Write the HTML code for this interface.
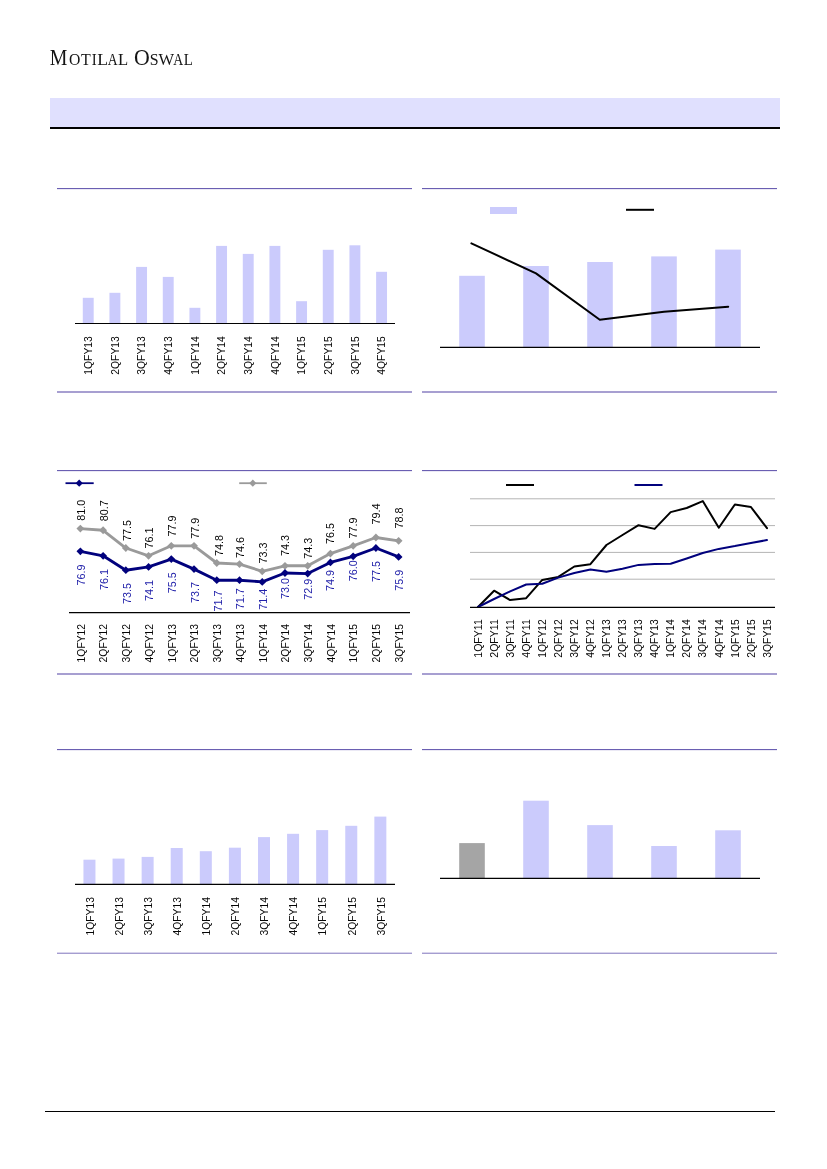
<!DOCTYPE html>
<html><head><meta charset="utf-8"><title>Motilal Oswal</title>
<style>
html,body{margin:0;padding:0;background:#fff}
body{width:827px;height:1169px;overflow:hidden}
svg{display:block;font-family:"Liberation Sans",sans-serif;will-change:transform;opacity:.999}
</style></head><body>
<svg width="827" height="1169" viewBox="0 0 827 1169">
<rect x="50" y="98" width="730" height="29" fill="#e0e0fe"/>
<rect x="50" y="127" width="730" height="2" fill="#000"/>
<text y="64.7" font-family="'Liberation Serif',serif" fill="#141414"><tspan font-size="22.1" x="49.73" textLength="17.65" lengthAdjust="spacingAndGlyphs">M</tspan><tspan font-size="15.7" x="69.05" textLength="11.39" lengthAdjust="spacingAndGlyphs">O</tspan><tspan font-size="15.7" x="81.01" textLength="9.75" lengthAdjust="spacingAndGlyphs">T</tspan><tspan font-size="15.7" x="91.86" textLength="4.96" lengthAdjust="spacingAndGlyphs">I</tspan><tspan font-size="15.7" x="97.19" textLength="10.77" lengthAdjust="spacingAndGlyphs">L</tspan><tspan font-size="15.7" x="107.77" textLength="9.83" lengthAdjust="spacingAndGlyphs">A</tspan><tspan font-size="15.7" x="117.92" textLength="10.18" lengthAdjust="spacingAndGlyphs">L</tspan> <tspan font-size="22.1" x="133.90" textLength="15.79" lengthAdjust="spacingAndGlyphs">O</tspan><tspan font-size="15.7" x="149.74" textLength="8.85" lengthAdjust="spacingAndGlyphs">S</tspan><tspan font-size="15.7" x="158.48" textLength="15.55" lengthAdjust="spacingAndGlyphs">W</tspan><tspan font-size="15.7" x="173.37" textLength="9.94" lengthAdjust="spacingAndGlyphs">A</tspan><tspan font-size="15.7" x="183.67" textLength="9.13" lengthAdjust="spacingAndGlyphs">L</tspan></text>
<rect x="57" y="188" width="355" height="1" fill="#6a5fb2"/>
<rect x="57" y="189" width="355" height="1" fill="#ebe9f5"/>
<rect x="422" y="188" width="355" height="1" fill="#6a5fb2"/>
<rect x="422" y="189" width="355" height="1" fill="#ebe9f5"/>
<rect x="57" y="391" width="355" height="2" fill="#a79fd1"/>
<rect x="422" y="391" width="355" height="2" fill="#a79fd1"/>
<rect x="57" y="470" width="355" height="1" fill="#6a5fb2"/>
<rect x="57" y="471" width="355" height="1" fill="#ebe9f5"/>
<rect x="422" y="470" width="355" height="1" fill="#6a5fb2"/>
<rect x="422" y="471" width="355" height="1" fill="#ebe9f5"/>
<rect x="57" y="673" width="355" height="2" fill="#a79fd1"/>
<rect x="422" y="673" width="355" height="2" fill="#a79fd1"/>
<rect x="57" y="749" width="355" height="1" fill="#6a5fb2"/>
<rect x="57" y="750" width="355" height="1" fill="#ebe9f5"/>
<rect x="422" y="749" width="355" height="1" fill="#6a5fb2"/>
<rect x="422" y="750" width="355" height="1" fill="#ebe9f5"/>
<rect x="57" y="952" width="355" height="1" fill="#d9d5ec"/>
<rect x="57" y="953" width="355" height="1" fill="#a59dd0"/>
<rect x="422" y="952" width="355" height="1" fill="#d9d5ec"/>
<rect x="422" y="953" width="355" height="1" fill="#a59dd0"/>
<rect x="45" y="1111" width="730" height="1" fill="#000"/>
<rect x="82.78" y="297.8" width="10.9" height="25.70" fill="#cbcbfc"/>
<text transform="translate(92.03,336.20) rotate(-90)" text-anchor="end" font-size="10.4" fill="#050505" textLength="38.5" lengthAdjust="spacingAndGlyphs">1QFY13</text>
<rect x="109.45" y="292.8" width="10.9" height="30.70" fill="#cbcbfc"/>
<text transform="translate(118.70,336.20) rotate(-90)" text-anchor="end" font-size="10.4" fill="#050505" textLength="38.5" lengthAdjust="spacingAndGlyphs">2QFY13</text>
<rect x="136.12" y="266.9" width="10.9" height="56.60" fill="#cbcbfc"/>
<text transform="translate(145.37,336.20) rotate(-90)" text-anchor="end" font-size="10.4" fill="#050505" textLength="38.5" lengthAdjust="spacingAndGlyphs">3QFY13</text>
<rect x="162.78" y="276.9" width="10.9" height="46.60" fill="#cbcbfc"/>
<text transform="translate(172.03,336.20) rotate(-90)" text-anchor="end" font-size="10.4" fill="#050505" textLength="38.5" lengthAdjust="spacingAndGlyphs">4QFY13</text>
<rect x="189.45" y="307.8" width="10.9" height="15.70" fill="#cbcbfc"/>
<text transform="translate(198.70,336.20) rotate(-90)" text-anchor="end" font-size="10.4" fill="#050505" textLength="38.5" lengthAdjust="spacingAndGlyphs">1QFY14</text>
<rect x="216.12" y="245.9" width="10.9" height="77.60" fill="#cbcbfc"/>
<text transform="translate(225.37,336.20) rotate(-90)" text-anchor="end" font-size="10.4" fill="#050505" textLength="38.5" lengthAdjust="spacingAndGlyphs">2QFY14</text>
<rect x="242.78" y="253.9" width="10.9" height="69.60" fill="#cbcbfc"/>
<text transform="translate(252.03,336.20) rotate(-90)" text-anchor="end" font-size="10.4" fill="#050505" textLength="38.5" lengthAdjust="spacingAndGlyphs">3QFY14</text>
<rect x="269.45" y="245.9" width="10.9" height="77.60" fill="#cbcbfc"/>
<text transform="translate(278.70,336.20) rotate(-90)" text-anchor="end" font-size="10.4" fill="#050505" textLength="38.5" lengthAdjust="spacingAndGlyphs">4QFY14</text>
<rect x="296.12" y="301.2" width="10.9" height="22.30" fill="#cbcbfc"/>
<text transform="translate(305.37,336.20) rotate(-90)" text-anchor="end" font-size="10.4" fill="#050505" textLength="38.5" lengthAdjust="spacingAndGlyphs">1QFY15</text>
<rect x="322.78" y="249.8" width="10.9" height="73.70" fill="#cbcbfc"/>
<text transform="translate(332.03,336.20) rotate(-90)" text-anchor="end" font-size="10.4" fill="#050505" textLength="38.5" lengthAdjust="spacingAndGlyphs">2QFY15</text>
<rect x="349.45" y="245.3" width="10.9" height="78.20" fill="#cbcbfc"/>
<text transform="translate(358.70,336.20) rotate(-90)" text-anchor="end" font-size="10.4" fill="#050505" textLength="38.5" lengthAdjust="spacingAndGlyphs">3QFY15</text>
<rect x="376.12" y="271.8" width="10.9" height="51.70" fill="#cbcbfc"/>
<text transform="translate(385.37,336.20) rotate(-90)" text-anchor="end" font-size="10.4" fill="#050505" textLength="38.5" lengthAdjust="spacingAndGlyphs">4QFY15</text>
<line x1="75" y1="323.5" x2="395" y2="323.5" stroke="#000" stroke-width="1.2"/>
<rect x="459.20" y="275.8" width="25.6" height="71.60" fill="#cbcbfc"/>
<rect x="523.20" y="266" width="25.6" height="81.40" fill="#cbcbfc"/>
<rect x="587.20" y="262" width="25.6" height="85.40" fill="#cbcbfc"/>
<rect x="651.20" y="256.4" width="25.6" height="91.00" fill="#cbcbfc"/>
<rect x="715.20" y="249.6" width="25.6" height="97.80" fill="#cbcbfc"/>
<line x1="440" y1="347.4" x2="760" y2="347.4" stroke="#000" stroke-width="1.1"/>
<rect x="490" y="207" width="27" height="7" fill="#cbcbfc"/>
<line x1="626" y1="209.8" x2="654" y2="209.8" stroke="#000" stroke-width="2"/>
<polyline points="471.4,243.3 536,273.4 599.8,319.7 664,311.7 728.2,306.7" fill="none" stroke="#000" stroke-width="2" stroke-linejoin="round" stroke-linecap="round"/>
<line x1="69" y1="612.6" x2="410" y2="612.6" stroke="#000" stroke-width="1.1"/>
<text transform="translate(84.67,623.90) rotate(-90)" text-anchor="end" font-size="10.4" fill="#050505" textLength="38.5" lengthAdjust="spacingAndGlyphs">1QFY12</text>
<text transform="translate(85.27,520.70) rotate(-90)" text-anchor="start" font-size="10.8" fill="#050505" textLength="21" lengthAdjust="spacingAndGlyphs">81.0</text>
<text transform="translate(85.27,564.60) rotate(-90)" text-anchor="end" font-size="10.8" fill="#2222aa" textLength="21" lengthAdjust="spacingAndGlyphs">76.9</text>
<text transform="translate(107.40,623.90) rotate(-90)" text-anchor="end" font-size="10.4" fill="#050505" textLength="38.5" lengthAdjust="spacingAndGlyphs">2QFY12</text>
<text transform="translate(108.00,521.30) rotate(-90)" text-anchor="start" font-size="10.8" fill="#050505" textLength="21" lengthAdjust="spacingAndGlyphs">80.7</text>
<text transform="translate(108.00,569.00) rotate(-90)" text-anchor="end" font-size="10.8" fill="#2222aa" textLength="21" lengthAdjust="spacingAndGlyphs">76.1</text>
<text transform="translate(130.13,623.90) rotate(-90)" text-anchor="end" font-size="10.4" fill="#050505" textLength="38.5" lengthAdjust="spacingAndGlyphs">3QFY12</text>
<text transform="translate(130.73,540.90) rotate(-90)" text-anchor="start" font-size="10.8" fill="#050505" textLength="21" lengthAdjust="spacingAndGlyphs">77.5</text>
<text transform="translate(130.73,583.10) rotate(-90)" text-anchor="end" font-size="10.8" fill="#2222aa" textLength="21" lengthAdjust="spacingAndGlyphs">73.5</text>
<text transform="translate(152.87,623.90) rotate(-90)" text-anchor="end" font-size="10.4" fill="#050505" textLength="38.5" lengthAdjust="spacingAndGlyphs">4QFY12</text>
<text transform="translate(153.47,548.50) rotate(-90)" text-anchor="start" font-size="10.8" fill="#050505" textLength="21" lengthAdjust="spacingAndGlyphs">76.1</text>
<text transform="translate(153.47,579.90) rotate(-90)" text-anchor="end" font-size="10.8" fill="#2222aa" textLength="21" lengthAdjust="spacingAndGlyphs">74.1</text>
<text transform="translate(175.60,623.90) rotate(-90)" text-anchor="end" font-size="10.4" fill="#050505" textLength="38.5" lengthAdjust="spacingAndGlyphs">1QFY13</text>
<text transform="translate(176.20,536.50) rotate(-90)" text-anchor="start" font-size="10.8" fill="#050505" textLength="21" lengthAdjust="spacingAndGlyphs">77.9</text>
<text transform="translate(176.20,572.30) rotate(-90)" text-anchor="end" font-size="10.8" fill="#2222aa" textLength="21" lengthAdjust="spacingAndGlyphs">75.5</text>
<text transform="translate(198.33,623.90) rotate(-90)" text-anchor="end" font-size="10.4" fill="#050505" textLength="38.5" lengthAdjust="spacingAndGlyphs">2QFY13</text>
<text transform="translate(198.93,538.70) rotate(-90)" text-anchor="start" font-size="10.8" fill="#050505" textLength="21" lengthAdjust="spacingAndGlyphs">77.9</text>
<text transform="translate(198.93,582.10) rotate(-90)" text-anchor="end" font-size="10.8" fill="#2222aa" textLength="21" lengthAdjust="spacingAndGlyphs">73.7</text>
<text transform="translate(221.07,623.90) rotate(-90)" text-anchor="end" font-size="10.4" fill="#050505" textLength="38.5" lengthAdjust="spacingAndGlyphs">3QFY13</text>
<text transform="translate(223.47,556.00) rotate(-90)" text-anchor="start" font-size="10.8" fill="#050505" textLength="21" lengthAdjust="spacingAndGlyphs">74.8</text>
<text transform="translate(221.67,590.50) rotate(-90)" text-anchor="end" font-size="10.8" fill="#2222aa" textLength="21" lengthAdjust="spacingAndGlyphs">71.7</text>
<text transform="translate(243.80,623.90) rotate(-90)" text-anchor="end" font-size="10.4" fill="#050505" textLength="38.5" lengthAdjust="spacingAndGlyphs">4QFY13</text>
<text transform="translate(244.40,558.10) rotate(-90)" text-anchor="start" font-size="10.8" fill="#050505" textLength="21" lengthAdjust="spacingAndGlyphs">74.6</text>
<text transform="translate(244.40,588.20) rotate(-90)" text-anchor="end" font-size="10.8" fill="#2222aa" textLength="21" lengthAdjust="spacingAndGlyphs">71.7</text>
<text transform="translate(266.53,623.90) rotate(-90)" text-anchor="end" font-size="10.4" fill="#050505" textLength="38.5" lengthAdjust="spacingAndGlyphs">1QFY14</text>
<text transform="translate(267.13,563.60) rotate(-90)" text-anchor="start" font-size="10.8" fill="#050505" textLength="21" lengthAdjust="spacingAndGlyphs">73.3</text>
<text transform="translate(267.13,588.70) rotate(-90)" text-anchor="end" font-size="10.8" fill="#2222aa" textLength="21" lengthAdjust="spacingAndGlyphs">71.4</text>
<text transform="translate(289.27,623.90) rotate(-90)" text-anchor="end" font-size="10.4" fill="#050505" textLength="38.5" lengthAdjust="spacingAndGlyphs">2QFY14</text>
<text transform="translate(288.87,556.00) rotate(-90)" text-anchor="start" font-size="10.8" fill="#050505" textLength="21" lengthAdjust="spacingAndGlyphs">74.3</text>
<text transform="translate(288.87,578.10) rotate(-90)" text-anchor="end" font-size="10.8" fill="#2222aa" textLength="21" lengthAdjust="spacingAndGlyphs">73.0</text>
<text transform="translate(312.00,623.90) rotate(-90)" text-anchor="end" font-size="10.4" fill="#050505" textLength="38.5" lengthAdjust="spacingAndGlyphs">3QFY14</text>
<text transform="translate(311.60,558.80) rotate(-90)" text-anchor="start" font-size="10.8" fill="#050505" textLength="21" lengthAdjust="spacingAndGlyphs">74.3</text>
<text transform="translate(311.60,578.80) rotate(-90)" text-anchor="end" font-size="10.8" fill="#2222aa" textLength="21" lengthAdjust="spacingAndGlyphs">72.9</text>
<text transform="translate(334.73,623.90) rotate(-90)" text-anchor="end" font-size="10.4" fill="#050505" textLength="38.5" lengthAdjust="spacingAndGlyphs">4QFY14</text>
<text transform="translate(334.33,543.90) rotate(-90)" text-anchor="start" font-size="10.8" fill="#050505" textLength="21" lengthAdjust="spacingAndGlyphs">76.5</text>
<text transform="translate(334.33,570.10) rotate(-90)" text-anchor="end" font-size="10.8" fill="#2222aa" textLength="21" lengthAdjust="spacingAndGlyphs">74.9</text>
<text transform="translate(357.47,623.90) rotate(-90)" text-anchor="end" font-size="10.4" fill="#050505" textLength="38.5" lengthAdjust="spacingAndGlyphs">1QFY15</text>
<text transform="translate(357.07,538.40) rotate(-90)" text-anchor="start" font-size="10.8" fill="#050505" textLength="21" lengthAdjust="spacingAndGlyphs">77.9</text>
<text transform="translate(357.07,560.20) rotate(-90)" text-anchor="end" font-size="10.8" fill="#2222aa" textLength="21" lengthAdjust="spacingAndGlyphs">76.0</text>
<text transform="translate(380.20,623.90) rotate(-90)" text-anchor="end" font-size="10.4" fill="#050505" textLength="38.5" lengthAdjust="spacingAndGlyphs">2QFY15</text>
<text transform="translate(379.80,524.50) rotate(-90)" text-anchor="start" font-size="10.8" fill="#050505" textLength="21" lengthAdjust="spacingAndGlyphs">79.4</text>
<text transform="translate(379.80,561.10) rotate(-90)" text-anchor="end" font-size="10.8" fill="#2222aa" textLength="21" lengthAdjust="spacingAndGlyphs">77.5</text>
<text transform="translate(402.93,623.90) rotate(-90)" text-anchor="end" font-size="10.4" fill="#050505" textLength="38.5" lengthAdjust="spacingAndGlyphs">3QFY15</text>
<text transform="translate(402.53,528.60) rotate(-90)" text-anchor="start" font-size="10.8" fill="#050505" textLength="21" lengthAdjust="spacingAndGlyphs">78.8</text>
<text transform="translate(402.53,569.70) rotate(-90)" text-anchor="end" font-size="10.8" fill="#2222aa" textLength="21" lengthAdjust="spacingAndGlyphs">75.9</text>
<polyline points="80.37,528.60 103.10,530.26 125.83,548.02 148.57,555.80 171.30,545.80 194.03,545.80 216.77,563.01 239.50,564.12 262.23,571.34 284.97,565.79 307.70,565.79 330.43,553.58 353.17,545.80 375.90,537.48 398.63,540.81" fill="none" stroke="#9a9a9a" stroke-width="2.85" stroke-linejoin="round"/>
<path d="M80.37,524.70 L84.27,528.60 L80.37,532.50 L76.47,528.60Z" fill="#9a9a9a"/>
<path d="M103.10,526.37 L107.00,530.26 L103.10,534.16 L99.20,530.26Z" fill="#9a9a9a"/>
<path d="M125.83,544.12 L129.73,548.02 L125.83,551.92 L121.93,548.02Z" fill="#9a9a9a"/>
<path d="M148.57,551.90 L152.47,555.80 L148.57,559.70 L144.67,555.80Z" fill="#9a9a9a"/>
<path d="M171.30,541.90 L175.20,545.80 L171.30,549.70 L167.40,545.80Z" fill="#9a9a9a"/>
<path d="M194.03,541.90 L197.93,545.80 L194.03,549.70 L190.13,545.80Z" fill="#9a9a9a"/>
<path d="M216.77,559.11 L220.67,563.01 L216.77,566.91 L212.87,563.01Z" fill="#9a9a9a"/>
<path d="M239.50,560.22 L243.40,564.12 L239.50,568.02 L235.60,564.12Z" fill="#9a9a9a"/>
<path d="M262.23,567.44 L266.13,571.34 L262.23,575.24 L258.33,571.34Z" fill="#9a9a9a"/>
<path d="M284.97,561.89 L288.87,565.79 L284.97,569.69 L281.07,565.79Z" fill="#9a9a9a"/>
<path d="M307.70,561.89 L311.60,565.79 L307.70,569.69 L303.80,565.79Z" fill="#9a9a9a"/>
<path d="M330.43,549.68 L334.33,553.58 L330.43,557.48 L326.53,553.58Z" fill="#9a9a9a"/>
<path d="M353.17,541.90 L357.07,545.80 L353.17,549.70 L349.27,545.80Z" fill="#9a9a9a"/>
<path d="M375.90,533.58 L379.80,537.48 L375.90,541.38 L372.00,537.48Z" fill="#9a9a9a"/>
<path d="M398.63,536.91 L402.53,540.81 L398.63,544.71 L394.73,540.81Z" fill="#9a9a9a"/>
<polyline points="80.37,551.36 103.10,555.80 125.83,570.23 148.57,566.90 171.30,559.12 194.03,569.12 216.77,580.22 239.50,580.22 262.23,581.88 284.97,573.00 307.70,573.55 330.43,562.46 353.17,556.35 375.90,548.02 398.63,556.90" fill="none" stroke="#00007d" stroke-width="2.85" stroke-linejoin="round"/>
<path d="M80.37,547.46 L84.27,551.36 L80.37,555.25 L76.47,551.36Z" fill="#00007d"/>
<path d="M103.10,551.90 L107.00,555.80 L103.10,559.70 L99.20,555.80Z" fill="#00007d"/>
<path d="M125.83,566.33 L129.73,570.23 L125.83,574.12 L121.93,570.23Z" fill="#00007d"/>
<path d="M148.57,563.00 L152.47,566.90 L148.57,570.80 L144.67,566.90Z" fill="#00007d"/>
<path d="M171.30,555.23 L175.20,559.12 L171.30,563.02 L167.40,559.12Z" fill="#00007d"/>
<path d="M194.03,565.22 L197.93,569.12 L194.03,573.01 L190.13,569.12Z" fill="#00007d"/>
<path d="M216.77,576.32 L220.67,580.22 L216.77,584.12 L212.87,580.22Z" fill="#00007d"/>
<path d="M239.50,576.32 L243.40,580.22 L239.50,584.12 L235.60,580.22Z" fill="#00007d"/>
<path d="M262.23,577.98 L266.13,581.88 L262.23,585.78 L258.33,581.88Z" fill="#00007d"/>
<path d="M284.97,569.10 L288.87,573.00 L284.97,576.90 L281.07,573.00Z" fill="#00007d"/>
<path d="M307.70,569.65 L311.60,573.55 L307.70,577.45 L303.80,573.55Z" fill="#00007d"/>
<path d="M330.43,558.56 L334.33,562.46 L330.43,566.36 L326.53,562.46Z" fill="#00007d"/>
<path d="M353.17,552.45 L357.07,556.35 L353.17,560.25 L349.27,556.35Z" fill="#00007d"/>
<path d="M375.90,544.12 L379.80,548.02 L375.90,551.92 L372.00,548.02Z" fill="#00007d"/>
<path d="M398.63,553.00 L402.53,556.90 L398.63,560.80 L394.73,556.90Z" fill="#00007d"/>
<line x1="65.5" y1="483.2" x2="93.7" y2="483.2" stroke="#00007d" stroke-width="1.8"/>
<path d="M79.20,479.60 L82.80,483.20 L79.20,486.80 L75.60,483.20Z" fill="#00007d"/>
<line x1="239.2" y1="483.2" x2="266.8" y2="483.2" stroke="#9a9a9a" stroke-width="1.8"/>
<path d="M252.80,479.60 L256.40,483.20 L252.80,486.80 L249.20,483.20Z" fill="#9a9a9a"/>
<line x1="470" y1="498.8" x2="775" y2="498.8" stroke="#b4b4b4" stroke-width="1"/>
<line x1="470" y1="525.6" x2="775" y2="525.6" stroke="#b4b4b4" stroke-width="1"/>
<line x1="470" y1="552.4" x2="775" y2="552.4" stroke="#b4b4b4" stroke-width="1"/>
<line x1="470" y1="579.2" x2="775" y2="579.2" stroke="#b4b4b4" stroke-width="1"/>
<polyline points="478.03,607.00 494.08,590.70 510.13,600.10 526.18,598.20 542.24,579.90 558.29,576.90 574.34,566.50 590.39,564.20 606.45,545.00 622.50,535.00 638.55,525.20 654.61,528.90 670.66,512.10 686.71,508.00 702.76,501.10 718.82,527.70 734.87,504.50 750.92,507.00 766.97,528.20" fill="none" stroke="#000" stroke-width="2" stroke-linejoin="round" stroke-linecap="round"/>
<polyline points="478.03,607.00 494.08,599.00 510.13,591.30 526.18,584.50 542.24,583.80 558.29,577.60 574.34,573.00 590.39,569.50 606.45,571.80 622.50,568.80 638.55,564.90 654.61,564.00 670.66,563.80 686.71,558.50 702.76,553.00 718.82,548.90 734.87,546.10 750.92,542.90 766.97,540.10" fill="none" stroke="#00007d" stroke-width="2" stroke-linejoin="round" stroke-linecap="round"/>
<line x1="470" y1="607.3" x2="775" y2="607.3" stroke="#000" stroke-width="1.15"/>
<text transform="translate(481.73,619.20) rotate(-90)" text-anchor="end" font-size="10.4" fill="#050505" textLength="38.5" lengthAdjust="spacingAndGlyphs">1QFY11</text>
<text transform="translate(497.78,619.20) rotate(-90)" text-anchor="end" font-size="10.4" fill="#050505" textLength="38.5" lengthAdjust="spacingAndGlyphs">2QFY11</text>
<text transform="translate(513.83,619.20) rotate(-90)" text-anchor="end" font-size="10.4" fill="#050505" textLength="38.5" lengthAdjust="spacingAndGlyphs">3QFY11</text>
<text transform="translate(529.88,619.20) rotate(-90)" text-anchor="end" font-size="10.4" fill="#050505" textLength="38.5" lengthAdjust="spacingAndGlyphs">4QFY11</text>
<text transform="translate(545.94,619.20) rotate(-90)" text-anchor="end" font-size="10.4" fill="#050505" textLength="38.5" lengthAdjust="spacingAndGlyphs">1QFY12</text>
<text transform="translate(561.99,619.20) rotate(-90)" text-anchor="end" font-size="10.4" fill="#050505" textLength="38.5" lengthAdjust="spacingAndGlyphs">2QFY12</text>
<text transform="translate(578.04,619.20) rotate(-90)" text-anchor="end" font-size="10.4" fill="#050505" textLength="38.5" lengthAdjust="spacingAndGlyphs">3QFY12</text>
<text transform="translate(594.09,619.20) rotate(-90)" text-anchor="end" font-size="10.4" fill="#050505" textLength="38.5" lengthAdjust="spacingAndGlyphs">4QFY12</text>
<text transform="translate(610.15,619.20) rotate(-90)" text-anchor="end" font-size="10.4" fill="#050505" textLength="38.5" lengthAdjust="spacingAndGlyphs">1QFY13</text>
<text transform="translate(626.20,619.20) rotate(-90)" text-anchor="end" font-size="10.4" fill="#050505" textLength="38.5" lengthAdjust="spacingAndGlyphs">2QFY13</text>
<text transform="translate(642.25,619.20) rotate(-90)" text-anchor="end" font-size="10.4" fill="#050505" textLength="38.5" lengthAdjust="spacingAndGlyphs">3QFY13</text>
<text transform="translate(658.31,619.20) rotate(-90)" text-anchor="end" font-size="10.4" fill="#050505" textLength="38.5" lengthAdjust="spacingAndGlyphs">4QFY13</text>
<text transform="translate(674.36,619.20) rotate(-90)" text-anchor="end" font-size="10.4" fill="#050505" textLength="38.5" lengthAdjust="spacingAndGlyphs">1QFY14</text>
<text transform="translate(690.41,619.20) rotate(-90)" text-anchor="end" font-size="10.4" fill="#050505" textLength="38.5" lengthAdjust="spacingAndGlyphs">2QFY14</text>
<text transform="translate(706.46,619.20) rotate(-90)" text-anchor="end" font-size="10.4" fill="#050505" textLength="38.5" lengthAdjust="spacingAndGlyphs">3QFY14</text>
<text transform="translate(722.52,619.20) rotate(-90)" text-anchor="end" font-size="10.4" fill="#050505" textLength="38.5" lengthAdjust="spacingAndGlyphs">4QFY14</text>
<text transform="translate(738.57,619.20) rotate(-90)" text-anchor="end" font-size="10.4" fill="#050505" textLength="38.5" lengthAdjust="spacingAndGlyphs">1QFY15</text>
<text transform="translate(754.62,619.20) rotate(-90)" text-anchor="end" font-size="10.4" fill="#050505" textLength="38.5" lengthAdjust="spacingAndGlyphs">2QFY15</text>
<text transform="translate(770.67,619.20) rotate(-90)" text-anchor="end" font-size="10.4" fill="#050505" textLength="38.5" lengthAdjust="spacingAndGlyphs">3QFY15</text>
<line x1="506" y1="485" x2="534" y2="485" stroke="#000" stroke-width="2"/>
<line x1="634.5" y1="485" x2="662.5" y2="485" stroke="#00007d" stroke-width="2"/>
<rect x="83.45" y="859.7" width="12" height="24.70" fill="#cbcbfc"/>
<text transform="translate(93.75,897.00) rotate(-90)" text-anchor="end" font-size="10.4" fill="#050505" textLength="38.5" lengthAdjust="spacingAndGlyphs">1QFY13</text>
<rect x="112.54" y="858.6" width="12" height="25.80" fill="#cbcbfc"/>
<text transform="translate(122.84,897.00) rotate(-90)" text-anchor="end" font-size="10.4" fill="#050505" textLength="38.5" lengthAdjust="spacingAndGlyphs">2QFY13</text>
<rect x="141.63" y="856.9" width="12" height="27.50" fill="#cbcbfc"/>
<text transform="translate(151.93,897.00) rotate(-90)" text-anchor="end" font-size="10.4" fill="#050505" textLength="38.5" lengthAdjust="spacingAndGlyphs">3QFY13</text>
<rect x="170.72" y="848" width="12" height="36.40" fill="#cbcbfc"/>
<text transform="translate(181.02,897.00) rotate(-90)" text-anchor="end" font-size="10.4" fill="#050505" textLength="38.5" lengthAdjust="spacingAndGlyphs">4QFY13</text>
<rect x="199.81" y="851.2" width="12" height="33.20" fill="#cbcbfc"/>
<text transform="translate(210.11,897.00) rotate(-90)" text-anchor="end" font-size="10.4" fill="#050505" textLength="38.5" lengthAdjust="spacingAndGlyphs">1QFY14</text>
<rect x="228.90" y="847.7" width="12" height="36.70" fill="#cbcbfc"/>
<text transform="translate(239.20,897.00) rotate(-90)" text-anchor="end" font-size="10.4" fill="#050505" textLength="38.5" lengthAdjust="spacingAndGlyphs">2QFY14</text>
<rect x="257.99" y="837.1" width="12" height="47.30" fill="#cbcbfc"/>
<text transform="translate(268.29,897.00) rotate(-90)" text-anchor="end" font-size="10.4" fill="#050505" textLength="38.5" lengthAdjust="spacingAndGlyphs">3QFY14</text>
<rect x="287.08" y="833.8" width="12" height="50.60" fill="#cbcbfc"/>
<text transform="translate(297.38,897.00) rotate(-90)" text-anchor="end" font-size="10.4" fill="#050505" textLength="38.5" lengthAdjust="spacingAndGlyphs">4QFY14</text>
<rect x="316.17" y="830.1" width="12" height="54.30" fill="#cbcbfc"/>
<text transform="translate(326.47,897.00) rotate(-90)" text-anchor="end" font-size="10.4" fill="#050505" textLength="38.5" lengthAdjust="spacingAndGlyphs">1QFY15</text>
<rect x="345.26" y="825.8" width="12" height="58.60" fill="#cbcbfc"/>
<text transform="translate(355.56,897.00) rotate(-90)" text-anchor="end" font-size="10.4" fill="#050505" textLength="38.5" lengthAdjust="spacingAndGlyphs">2QFY15</text>
<rect x="374.35" y="816.6" width="12" height="67.80" fill="#cbcbfc"/>
<text transform="translate(384.65,897.00) rotate(-90)" text-anchor="end" font-size="10.4" fill="#050505" textLength="38.5" lengthAdjust="spacingAndGlyphs">3QFY15</text>
<line x1="75" y1="884.4" x2="395" y2="884.4" stroke="#000" stroke-width="1.2"/>
<rect x="459.20" y="843.1" width="25.6" height="35.30" fill="#a5a5a5"/>
<rect x="523.20" y="800.7" width="25.6" height="77.70" fill="#cbcbfc"/>
<rect x="587.20" y="825.1" width="25.6" height="53.30" fill="#cbcbfc"/>
<rect x="651.20" y="846" width="25.6" height="32.40" fill="#cbcbfc"/>
<rect x="715.20" y="830.3" width="25.6" height="48.10" fill="#cbcbfc"/>
<line x1="440" y1="878.4" x2="760" y2="878.4" stroke="#000" stroke-width="1.2"/>
</svg>
</body></html>
